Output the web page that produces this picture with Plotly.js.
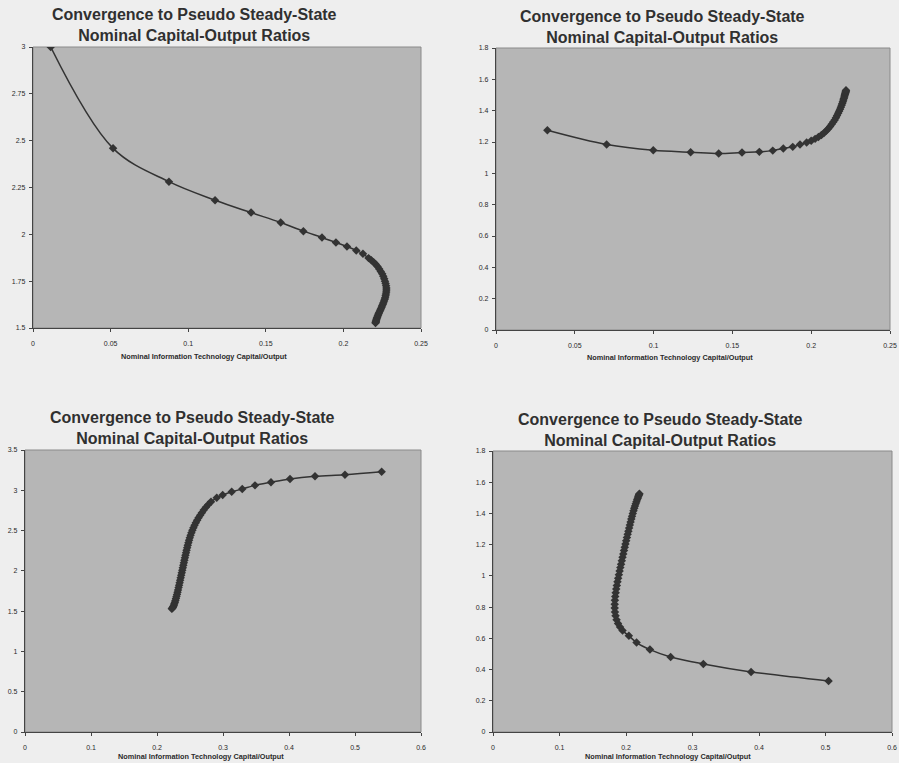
<!DOCTYPE html>
<html>
<head>
<meta charset="utf-8">
<script src="https://cdn.plot.ly/plotly-3.0.1.min.js"></script>
<style>
html,body{margin:0;padding:0;background:#eeeeee;}
#chart{width:899px;height:763px;}
</style>
</head>
<body>
<div id="chart"></div>
<script>
// ---------- data ----------
const chartTitle = "Convergence to Pseudo Steady-State<br>Nominal Capital-Output Ratios";
const xAxisTitle = "Nominal Information Technology Capital/Output";

const p1x = [0.0114,0.0516,0.0876,0.1173,0.1405,0.1596,0.1742,0.1862,0.1952,0.2023,0.2083,0.2126,0.2162,
  0.2180,0.2195,0.2208,0.2220,0.2231,0.2241,0.2250,0.2257,0.2263,0.2268,0.2272,0.2275,0.2277,0.2277,
  0.2276,0.2274,0.2272,0.2269,0.2266,0.2262,0.2258,0.2254,0.2250,0.2246,0.2242,0.2238,0.2234,0.2230,
  0.2227,0.2224,0.2221,0.2218,0.2216,0.2214,0.2212,0.2210,0.2209,0.2208,0.2207];
const p1y = [3.000,2.459,2.281,2.182,2.116,2.063,2.017,1.983,1.956,1.935,1.914,1.896,1.873,
  1.862,1.851,1.840,1.828,1.815,1.802,1.789,1.776,1.763,1.750,1.738,1.726,1.714,1.703,
  1.692,1.682,1.672,1.662,1.653,1.644,1.635,1.627,1.619,1.611,1.603,1.596,1.589,1.582,
  1.576,1.570,1.564,1.558,1.553,1.548,1.543,1.538,1.534,1.530,1.527];

const p2x = [0.0326,0.0702,0.0998,0.1235,0.1413,0.1561,0.1671,0.1756,0.1823,0.1883,0.1929,0.1971,
  0.2000,0.2025,0.2046,0.2065,0.2081,0.2095,0.2108,0.2120,0.2130,0.2140,0.2149,0.2157,0.2164,
  0.2171,0.2177,0.2183,0.2188,0.2193,0.2197,0.2201,0.2204,0.2207,0.2210,0.2212,0.2214,0.2216,
  0.2218,0.2219,0.2220,0.2221];
const p2y = [1.275,1.184,1.147,1.135,1.126,1.133,1.137,1.145,1.159,1.169,1.184,1.197,
  1.208,1.220,1.232,1.245,1.258,1.271,1.285,1.299,1.313,1.327,1.341,1.355,1.369,
  1.383,1.396,1.409,1.422,1.434,1.446,1.457,1.468,1.478,1.487,1.495,1.503,1.510,
  1.516,1.521,1.526,1.530];

const p3x = [0.5404,0.4848,0.4394,0.4015,0.3727,0.3485,0.3292,0.3132,0.2995,0.2905,0.2818,
  0.2775,0.2740,0.2708,0.2680,0.2654,0.2630,0.2608,0.2588,0.2569,0.2552,0.2536,0.2522,0.2509,
  0.2497,0.2486,0.2476,0.2466,0.2457,0.2448,0.2440,0.2431,0.2423,0.2415,0.2407,0.2399,0.2391,
  0.2383,0.2375,0.2367,0.2359,0.2351,0.2343,0.2335,0.2327,0.2319,0.2311,0.2303,0.2295,0.2287,
  0.2279,0.2271,0.2263,0.2255,0.2247,0.2239,0.2231,0.2224];
const p3y = [3.231,3.194,3.173,3.140,3.099,3.061,3.016,2.982,2.941,2.907,2.858,
  2.822,2.788,2.755,2.722,2.690,2.658,2.627,2.596,2.565,2.534,2.503,2.472,2.441,
  2.410,2.379,2.348,2.317,2.286,2.255,2.224,2.193,2.162,2.131,2.100,2.069,2.038,
  2.007,1.976,1.945,1.914,1.883,1.852,1.822,1.792,1.763,1.735,1.708,1.682,1.657,
  1.633,1.611,1.591,1.573,1.558,1.546,1.537,1.531];

const p4x = [0.5046,0.3881,0.3163,0.2671,0.2360,0.2159,0.2043,0.1948,
  0.1910,0.1880,0.1858,0.1843,0.1834,0.1830,0.1830,0.1833,0.1838,0.1845,0.1853,0.1862,0.1872,
  0.1882,0.1893,0.1904,0.1915,0.1926,0.1937,0.1948,0.1959,0.1970,0.1981,0.1992,0.2003,0.2014,
  0.2025,0.2036,0.2047,0.2058,0.2069,0.2080,0.2091,0.2102,0.2113,0.2124,0.2135,0.2146,0.2157,
  0.2167,0.2176,0.2184,0.2191,0.2197,0.2202];
const p4y = [0.327,0.385,0.436,0.481,0.528,0.573,0.616,0.650,
  0.672,0.695,0.719,0.744,0.769,0.794,0.819,0.844,0.868,0.892,0.916,0.939,0.962,
  0.985,1.008,1.031,1.053,1.075,1.097,1.119,1.141,1.162,1.183,1.204,1.225,1.246,
  1.266,1.286,1.306,1.326,1.345,1.364,1.382,1.400,1.417,1.433,1.448,1.462,1.475,
  1.487,1.498,1.507,1.515,1.521,1.526];

const xTicks1 = [0,0.05,0.1,0.15,0.2,0.25];
const xTickText1 = ["0","0.05","0.1","0.15","0.2","0.25"];
const xTicks2 = [0,0.1,0.2,0.3,0.4,0.5,0.6];
const xTickText2 = ["0","0.1","0.2","0.3","0.4","0.5","0.6"];
const yTicksA = [1.5,1.75,2,2.25,2.5,2.75,3];
const yTickTextA = ["1.5","1.75","2","2.25","2.5","2.75","3"];
const yTicksB = [0,0.2,0.4,0.6,0.8,1,1.2,1.4,1.6,1.8];
const yTickTextB = ["0","0.2","0.4","0.6","0.8","1","1.2","1.4","1.6","1.8"];
const yTicksC = [0,0.5,1,1.5,2,2.5,3,3.5];
const yTickTextC = ["0","0.5","1","1.5","2","2.5","3","3.5"];

// ---------- layout helpers ----------
const W = 899, H = 763;
const fx = px => px / W;
const fy = py => 1 - py / H;
const ink = "#333333";
const fontFam = "Liberation Sans, Arial, sans-serif";

// panel boxes in pixels: [left, right, top, bottom]
const boxes = [
  [33, 421, 47, 328],
  [496, 890, 48, 330],
  [25, 421, 450, 732],
  [493, 892, 451, 732]
];
const titlePos = [[194, 25], [662, 27], [192, 428], [660, 430]];
const xtitlePos = [[204, 356], [670, 357], [201, 756], [668, 756]];

const series = [[p1x,p1y],[p2x,p2y],[p3x,p3y],[p4x,p4y]];
const traces = series.map((s, i) => ({
  x: s[0], y: s[1],
  xaxis: i === 0 ? "x" : "x" + (i + 1),
  yaxis: i === 0 ? "y" : "y" + (i + 1),
  type: "scatter", mode: "lines+markers",
  line: {color: ink, width: 1.5, shape: "spline"},
  marker: {symbol: "diamond", size: 6.5, color: ink},
  hoverinfo: "x+y", showlegend: false
}));

const xSpecs = [
  {range: [0, 0.25], tickvals: xTicks1, ticktext: xTickText1},
  {range: [0, 0.25], tickvals: xTicks1, ticktext: xTickText1},
  {range: [0, 0.6], tickvals: xTicks2, ticktext: xTickText2},
  {range: [0, 0.6], tickvals: xTicks2, ticktext: xTickText2}
];
const ySpecs = [
  {range: [1.5, 3], tickvals: yTicksA, ticktext: yTickTextA},
  {range: [0, 1.8], tickvals: yTicksB, ticktext: yTickTextB},
  {range: [0, 3.5], tickvals: yTicksC, ticktext: yTickTextC},
  {range: [0, 1.8], tickvals: yTicksB, ticktext: yTickTextB}
];

const layout = {
  width: W, height: H,
  margin: {l: 0, r: 0, t: 0, b: 0},
  paper_bgcolor: "#eeeeee",
  plot_bgcolor: "#b6b6b6",
  showlegend: false,
  font: {family: fontFam, color: ink},
  annotations: [], shapes: []
};

boxes.forEach((b, i) => {
  const sx = i === 0 ? "" : String(i + 1);
  const tickFont = {family: fontFam, size: 7, color: "#2a2a2a"};
  layout["xaxis" + sx] = Object.assign({
    domain: [fx(b[0]), fx(b[1])],
    anchor: "y" + sx,
    tickmode: "array", ticks: "outside", ticklen: 3, tickwidth: 1, tickcolor: "#444",
    showline: true, linecolor: "#444", linewidth: 1.2,
    showgrid: false, zeroline: false, fixedrange: true,
    tickfont: tickFont, ticklabelstandoff: 5
  }, xSpecs[i]);
  layout["yaxis" + sx] = Object.assign({
    domain: [fy(b[3]), fy(b[2])],
    anchor: "x" + sx,
    tickmode: "array", ticks: "outside", ticklen: 3, tickwidth: 1, tickcolor: "#444",
    showline: true, linecolor: "#444", linewidth: 1.2,
    showgrid: false, zeroline: false, fixedrange: true,
    tickfont: tickFont, ticklabelstandoff: 2
  }, ySpecs[i]);
  // plot-area border (top / right)
  layout.shapes.push({
    type: "rect", xref: "paper", yref: "paper",
    x0: fx(b[0]), x1: fx(b[1]), y0: fy(b[3]), y1: fy(b[2]),
    line: {color: "#8a8a8a", width: 1}, fillcolor: "rgba(0,0,0,0)", layer: "below"
  });
  layout.annotations.push({
    xref: "paper", yref: "paper",
    x: fx(titlePos[i][0]), y: fy(titlePos[i][1]),
    xanchor: "center", yanchor: "middle",
    text: "<b>" + chartTitle + "</b>",
    showarrow: false,
    font: {family: fontFam, size: 16, color: "#303030"}
  });
  layout.annotations.push({
    xref: "paper", yref: "paper",
    x: fx(xtitlePos[i][0]), y: fy(xtitlePos[i][1]),
    xanchor: "center", yanchor: "middle",
    text: "<b>" + xAxisTitle + "</b>",
    showarrow: false,
    font: {family: fontFam, size: 7.3, color: "#2a2a2a"}
  });
});

Plotly.newPlot("chart", traces, layout, {displayModeBar: false, staticPlot: true});
</script>
</body>
</html>
